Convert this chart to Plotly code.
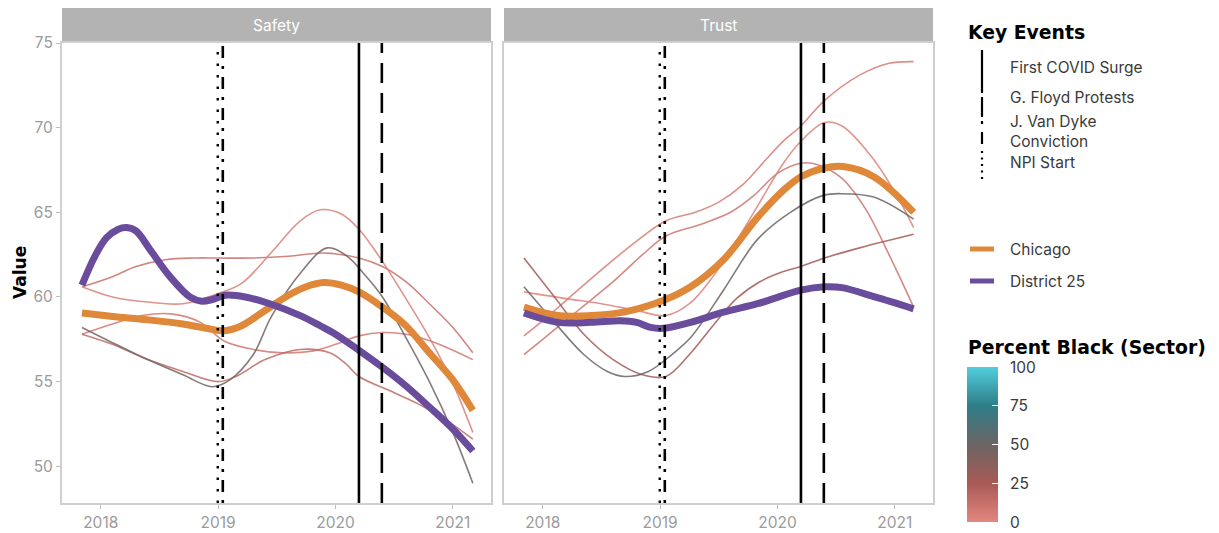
import plotly.graph_objects as go

# ---------------------------------------------------------------- data ----
# Citywide and district averages (smoothed), by measure
chicago_safety_x = [2017.84, 2018.1, 2018.4, 2018.7, 2018.9, 2019.05, 2019.2, 2019.4, 2019.6,
                    2019.75, 2019.9, 2020.05, 2020.2, 2020.4, 2020.6, 2020.8, 2021.0, 2021.17]
chicago_safety_y = [59.05, 58.85, 58.65, 58.4, 58.15, 58.0, 58.3, 59.2, 60.1,
                    60.6, 60.85, 60.7, 60.3, 59.4, 58.3, 56.7, 55.1, 53.3]

district_safety_x = [2017.84, 2017.95, 2018.05, 2018.15, 2018.22, 2018.3, 2018.42, 2018.59, 2018.76,
                     2018.86, 2018.95, 2019.06, 2019.23, 2019.44, 2019.7, 2019.87, 2020.0, 2020.2,
                     2020.4, 2020.6, 2020.8, 2021.0, 2021.17]
district_safety_y = [60.7, 62.4, 63.5, 64.0, 64.1, 63.9, 62.8, 61.2, 60.0,
                     59.75, 59.85, 60.1, 60.0, 59.6, 58.9, 58.3, 57.8, 56.85,
                     55.85, 54.75, 53.5, 52.2, 50.9]

chicago_trust_x = [2017.84, 2018.13, 2018.41, 2018.69, 2019.03, 2019.26, 2019.54, 2019.83, 2020.05,
                   2020.2, 2020.39, 2020.56, 2020.82, 2021.16]
chicago_trust_y = [59.4, 58.9, 58.9, 59.1, 59.8, 60.6, 62.2, 64.7, 66.3,
                   67.1, 67.6, 67.7, 67.1, 65.0]

district_trust_x = [2017.84, 2018.13, 2018.41, 2018.66, 2018.8, 2018.92, 2019.03, 2019.26, 2019.54,
                    2019.83, 2020.2, 2020.4, 2020.55, 2020.83, 2021.16]
district_trust_y = [59.05, 58.5, 58.5, 58.6, 58.5, 58.2, 58.15, 58.5, 59.1,
                    59.6, 60.4, 60.6, 60.55, 60.0, 59.3]

# Sector-level smoothed series: (x, y, percent Black)
sector_safety = [
    ([2017.84, 2018.1, 2018.3, 2018.55, 2018.8, 2019.0, 2019.3, 2019.6, 2019.9, 2020.2,
      2020.4, 2020.6, 2020.8, 2021.0, 2021.17],
     [60.6, 61.2, 61.8, 62.2, 62.3, 62.3, 62.3, 62.4, 62.6, 62.3,
      61.8, 60.9, 59.6, 58.2, 56.7], 12),
    ([2017.84, 2018.1, 2018.4, 2018.7, 2019.0, 2019.2, 2019.45, 2019.7, 2019.87, 2020.05,
      2020.2, 2020.4, 2020.6, 2020.8, 2021.0, 2021.17],
     [60.6, 60.0, 59.7, 59.6, 60.2, 60.8, 62.6, 64.5, 65.15, 64.9,
      64.0, 62.1, 59.9, 57.6, 54.9, 52.0], 4),
    ([2017.84, 2018.1, 2018.35, 2018.6, 2018.85, 2019.05, 2019.3, 2019.55, 2019.8, 2020.0,
      2020.2, 2020.4, 2020.6, 2020.85, 2021.17],
     [57.8, 58.4, 58.9, 59.0, 58.5, 57.4, 56.9, 56.7, 56.8, 57.2,
      57.7, 57.9, 57.8, 57.3, 56.3], 8),
    ([2017.84, 2018.1, 2018.4, 2018.7, 2019.0, 2019.15, 2019.4, 2019.7, 2019.95, 2020.08,
      2020.2, 2020.45, 2020.7, 2020.95, 2021.17],
     [57.8, 57.2, 56.3, 55.6, 55.0, 55.3, 56.3, 56.9, 56.7, 56.1,
      55.3, 54.5, 53.7, 52.7, 51.6], 16),
    ([2017.84, 2018.1, 2018.4, 2018.7, 2018.95, 2019.1, 2019.3, 2019.45, 2019.7, 2019.93,
      2020.1, 2020.25, 2020.4, 2020.6, 2020.8, 2021.0, 2021.17],
     [58.2, 57.3, 56.3, 55.4, 54.7, 55.1, 56.6, 58.8, 61.4, 62.9,
      62.4, 61.3, 60.0, 57.6, 55.0, 52.0, 49.0], 47),
]

sector_trust = [
    ([2017.84, 2018.0, 2018.2, 2018.5, 2018.8, 2019.05, 2019.3, 2019.5, 2019.7, 2019.9,
      2020.05, 2020.2, 2020.4, 2020.7, 2020.95, 2021.16],
     [57.7, 58.6, 59.8, 61.6, 63.3, 64.5, 65.0, 65.6, 66.6, 68.1,
      69.2, 70.1, 71.6, 73.1, 73.8, 73.9], 6),
    ([2017.84, 2018.0, 2018.3, 2018.6, 2018.85, 2019.05, 2019.35, 2019.6, 2019.8, 2020.0,
      2020.2, 2020.35, 2020.55, 2020.75, 2020.95, 2021.16],
     [56.6, 57.5, 59.2, 60.9, 62.5, 63.6, 64.3, 65.0, 66.0, 67.3,
      67.9, 67.8, 67.0, 65.2, 62.5, 59.4], 10),
    ([2017.84, 2018.2, 2018.5, 2018.8, 2019.05, 2019.25, 2019.45, 2019.65, 2019.85, 2020.05,
      2020.2, 2020.4, 2020.55, 2020.8, 2021.0, 2021.16],
     [60.3, 59.9, 59.6, 59.2, 58.9, 59.6, 61.2, 63.3, 65.6, 67.9,
      69.2, 70.3, 70.1, 68.3, 66.2, 64.1], 3),
    ([2017.84, 2018.1, 2018.35, 2018.6, 2018.85, 2019.05, 2019.25, 2019.45, 2019.65, 2019.85,
      2020.05, 2020.2, 2020.4, 2020.7, 2021.16],
     [62.3, 60.0, 57.8, 56.3, 55.4, 55.3, 56.6, 58.3, 59.9, 60.9,
      61.5, 61.8, 62.3, 62.9, 63.7], 28),
    ([2017.84, 2018.1, 2018.35, 2018.55, 2018.7, 2018.9, 2019.1, 2019.26, 2019.54, 2019.83,
      2020.11, 2020.39, 2020.54, 2020.82, 2021.16],
     [60.6, 58.5, 56.6, 55.6, 55.3, 55.6, 56.6, 57.6, 60.4, 63.4,
      65.0, 66.0, 66.1, 65.9, 64.6], 50),
]

# Key events (decimal year)
event_names = ["First COVID Surge", "G. Floyd Protests", "J. Van Dyke<br>Conviction", "NPI Start"]
event_dates = [2020.2, 2020.395, 2019.04, 2018.997]

panel_titles = ["Safety", "Trust"]
year_ticks = [2018, 2019, 2020, 2021]
value_ticks = [50, 55, 60, 65, 70, 75]
pct_ticks = [0, 25, 50, 75, 100]

# ---------------------------------------------------------------- style ---
W, H = 1219, 533
FONT = "Inter"
HEAVY = "DejaVu Sans"
ORANGE = "#E0883A"
PURPLE = "#6A4C9C"
pct_scale = [[0.0, "#E3877F"], [0.25, "#A85A55"], [0.5, "#6B6464"],
             [0.75, "#2E7E88"], [1.0, "#52CEDD"]]
event_dash = ["solid", "20px,10px", "3px,8px,12px,8px", "2.5px,9px"]
key_dash = ["solid", "20px,10px", "3px,8px,12px,8px", "2px,4.5px"]
event_width = [2.6, 2.6, 2.6, 2.4]
CB_TOP, CB_BOTTOM = 367, 522   # colour bar extent in pixels


def px(x):
    return x / W


def py(y):
    return 1 - y / H


def pct_color(p):
    t = p / 100.0
    for (a, ca), (b, cb) in zip(pct_scale[:-1], pct_scale[1:]):
        if a <= t <= b:
            f = (t - a) / (b - a)
            c1 = [int(ca[i:i + 2], 16) for i in (1, 3, 5)]
            c2 = [int(cb[i:i + 2], 16) for i in (1, 3, 5)]
            r, g, bl = [round(u + (v - u) * f) for u, v in zip(c1, c2)]
            return f"rgba({r},{g},{bl},0.85)"
    return pct_scale[-1][1]


fig = go.Figure()

panels = [
    ("x", "y", sector_safety, chicago_safety_x, chicago_safety_y, district_safety_x, district_safety_y),
    ("x2", "y2", sector_trust, chicago_trust_x, chicago_trust_y, district_trust_x, district_trust_y),
]

for xa, ya, sectors, cx, cy, dx, dy in panels:
    for sx, sy, pct in sectors:
        fig.add_trace(go.Scatter(x=sx, y=sy, xaxis=xa, yaxis=ya, mode="lines",
                                 line=dict(color=pct_color(pct), width=1.6, shape="spline", smoothing=1.0),
                                 showlegend=False, hoverinfo="skip"))
    fig.add_trace(go.Scatter(x=cx, y=cy, xaxis=xa, yaxis=ya, mode="lines", name="Chicago",
                             line=dict(color=ORANGE, width=7, shape="spline", smoothing=1.0),
                             showlegend=False))
    fig.add_trace(go.Scatter(x=dx, y=dy, xaxis=xa, yaxis=ya, mode="lines", name="District 25",
                             line=dict(color=PURPLE, width=7, shape="spline", smoothing=1.0),
                             showlegend=False))
    for d, dash, w in zip(event_dates, event_dash, event_width):
        fig.add_shape(type="line", xref=xa, yref=f"{ya} domain", x0=d, x1=d, y0=0, y1=1,
                      line=dict(color="black", width=w, dash=dash))

# colour bar for percent Black (labels placed separately)
fig.add_trace(go.Scatter(
    x=[None], y=[None], mode="markers", showlegend=False, hoverinfo="skip",
    marker=dict(color=[0], cmin=0, cmax=100, colorscale=pct_scale, showscale=True,
                colorbar=dict(x=px(967), xanchor="left", xpad=0, ypad=0,
                              y=py(CB_BOTTOM), yanchor="bottom", len=(CB_BOTTOM - CB_TOP) / H,
                              lenmode="fraction", thickness=31, thicknessmode="pixels", outlinewidth=0,
                              tickvals=pct_ticks, ticks="inside", ticklen=6, tickcolor="white",
                              showticklabels=False)),
))
for v in pct_ticks:
    ypix = CB_BOTTOM - (CB_BOTTOM - CB_TOP) * v / 100
    fig.add_annotation(x=px(1008), y=py(ypix), xref="paper", yref="paper", text=str(v),
                       showarrow=False, xanchor="left", yanchor="middle",
                       font=dict(family=FONT, size=15.5, color="#3a3a3a"))

# axes
axis_common = dict(showgrid=False, zeroline=False, showline=True, mirror=True,
                   linecolor="#cfcfcf", linewidth=2, ticks="outside", ticklen=4,
                   tickcolor="#bdbdbd", tickwidth=1.2, automargin=False,
                   tickfont=dict(family=FONT, size=15.5, color="#9b9b9b"))
xr = [2017.67, 2021.325]
yr = [47.83, 75.0]
fig.update_layout(
    xaxis=dict(domain=[px(62), px(491)], range=xr, tickvals=year_ticks, anchor="y", **axis_common),
    xaxis2=dict(domain=[px(504), px(933)], range=xr, tickvals=year_ticks, anchor="y2", **axis_common),
    yaxis=dict(domain=[py(503), py(43)], range=yr, tickvals=value_ticks, anchor="x", **axis_common),
    yaxis2=dict(domain=[py(503), py(43)], range=yr, tickvals=value_ticks, anchor="x2",
                showticklabels=False, **{k: v for k, v in axis_common.items() if k != "ticks"}, ticks=""),
)

# facet strips
for (x0, x1), title in zip([(62, 491), (504, 933)], panel_titles):
    fig.add_shape(type="rect", xref="paper", yref="paper", x0=px(x0), x1=px(x1),
                  y0=py(43), y1=py(8), fillcolor="#b3b3b3", line=dict(width=0), layer="below")
    fig.add_annotation(x=px((x0 + x1) / 2), y=py(25.5), xref="paper", yref="paper", text=title,
                       showarrow=False, xanchor="center", yanchor="middle",
                       font=dict(family=FONT, size=15.5, color="white"))

# y-axis title
fig.add_annotation(x=px(20), y=py(273), xref="paper", yref="paper", text="<b>Value</b>", textangle=-90,
                   showarrow=False, xanchor="center", yanchor="middle",
                   font=dict(family=HEAVY, size=17, color="black"))

# legend: key events
fig.add_annotation(x=px(966), y=py(33), xref="paper", yref="paper", text="<b>Key Events</b>",
                   showarrow=False, xanchor="left", yanchor="middle",
                   font=dict(family=HEAVY, size=18.8, color="black"))
key_spans = [(50, 93), (97, 119), (121, 149), (151, 180)]
key_text_y = [67, 97, 131, 163]
for (y0, y1), ty, name, dash in zip(key_spans, key_text_y, event_names, key_dash):
    fig.add_shape(type="line", xref="paper", yref="paper", x0=px(982), x1=px(982),
                  y0=py(y0), y1=py(y1), line=dict(color="black", width=2.2, dash=dash))
    fig.add_annotation(x=px(1008), y=py(ty), xref="paper", yref="paper", text=name,
                       showarrow=False, xanchor="left", yanchor="middle", align="left",
                       font=dict(family=FONT, size=15.5, color="#3a3a3a"))

# legend: series
for ty, name, col in zip([249, 281], ["Chicago", "District 25"], [ORANGE, PURPLE]):
    fig.add_shape(type="line", xref="paper", yref="paper", x0=px(970), x1=px(994),
                  y0=py(ty), y1=py(ty), line=dict(color=col, width=5))
    fig.add_annotation(x=px(1008), y=py(ty), xref="paper", yref="paper", text=name,
                       showarrow=False, xanchor="left", yanchor="middle",
                       font=dict(family=FONT, size=15.5, color="#3a3a3a"))

# legend: colour bar title
fig.add_annotation(x=px(966), y=py(347), xref="paper", yref="paper", text="<b>Percent Black (Sector)</b>",
                   showarrow=False, xanchor="left", yanchor="middle",
                   font=dict(family=HEAVY, size=18.8, color="black"))

fig.update_layout(width=W, height=H, margin=dict(l=0, r=0, t=0, b=0, autoexpand=False),
                  paper_bgcolor="white", plot_bgcolor="white", showlegend=False,
                  font=dict(family=FONT))

fig.write_html("out.html")
